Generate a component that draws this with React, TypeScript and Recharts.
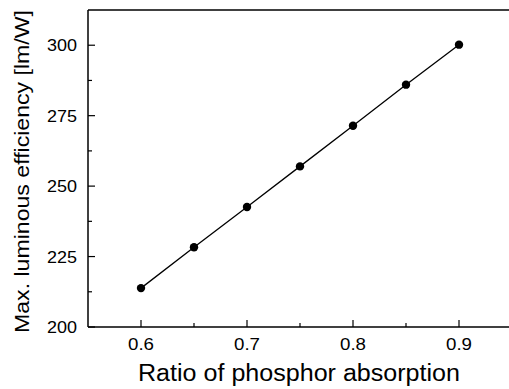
import React from "react"
import { LineChart, Line, XAxis, YAxis, Label } from "recharts"

const ratio = [0.6, 0.65, 0.7, 0.75, 0.8, 0.85, 0.9]
const efficiency = [213.8, 228.3, 242.6, 257.0, 271.4, 286.0, 300.2]

const xMajor = [0.6, 0.7, 0.8, 0.9]
const xTicks = [0.6, 0.65, 0.7, 0.75, 0.8, 0.85, 0.9]
const yMajor = [200, 225, 250, 275, 300]
const yTicks = [200, 212.5, 225, 237.5, 250, 262.5, 275, 287.5, 300]

const data = ratio.map((r, i) => ({ x: r, y: efficiency[i] }))

const FONT = "'Liberation Sans', Arial, sans-serif"
const AXIS = { stroke: "#000", strokeWidth: 1.5 }

const isMajor = (list: number[], v: number) => list.some((m) => Math.abs(m - v) < 1e-6)

const BottomTick = ({ x, y, payload }: any) => {
  const major = isMajor(xMajor, payload.value)
  return (
    <g>
      <line x1={x} x2={x} y1={y} y2={y - (major ? 7 : 4)} stroke="#000" strokeWidth={1.2} />
      {major && (
        <text
          x={x}
          y={y + 22.5}
          textAnchor="middle"
          fontSize={17}
          fontFamily={FONT}
          fill="#000"
          textLength={26}
          lengthAdjust="spacingAndGlyphs"
        >
          {payload.value.toFixed(1)}
        </text>
      )}
    </g>
  )
}

const LeftTick = ({ x, y, payload }: any) => {
  const major = isMajor(yMajor, payload.value)
  return (
    <g>
      <line x1={x} x2={x + (major ? 7 : 4)} y1={y} y2={y} stroke="#000" strokeWidth={1.2} />
      {major && (
        <text
          x={x - 11}
          y={y + 6}
          textAnchor="end"
          fontSize={17}
          fontFamily={FONT}
          fill="#000"
          textLength={30}
          lengthAdjust="spacingAndGlyphs"
        >
          {payload.value}
        </text>
      )}
    </g>
  )
}

const RightTick = ({ x, y, payload }: any) => {
  const major = isMajor(yMajor, payload.value)
  return <line x1={x} x2={x - (major ? 7 : 4)} y1={y} y2={y} stroke="#000" strokeWidth={1.2} />
}

export default function App() {
  return (
    <div style={{ position: "absolute", left: 0, top: 0, width: 509, height: 389, overflow: "hidden", background: "#fff" }}>
      <LineChart width={513} height={389} data={data} margin={{ top: 0, right: 0, bottom: 0, left: 0 }}>
        <XAxis
          dataKey="x"
          type="number"
          domain={[0.55, 0.95]}
          ticks={xTicks}
          interval={0}
          height={62}
          tickSize={0}
          tickMargin={0}
          axisLine={AXIS}
          tickLine={false}
          tick={<BottomTick />}
        >
          <Label
            content={({ viewBox }: any) => (
              <text
                x={viewBox.x + viewBox.width / 2 - 1}
                y={381}
                textAnchor="middle"
                fontSize={23}
                fontFamily={FONT}
                fill="#000"
                textLength={322}
                lengthAdjust="spacingAndGlyphs"
              >
                Ratio of phosphor absorption
              </text>
            )}
          />
        </XAxis>
        <XAxis xAxisId="top" dataKey="x" type="number" domain={[0.55, 0.95]} orientation="top" height={10} tick={false} tickLine={false} axisLine={AXIS} />
        <YAxis
          type="number"
          domain={[200, 312.5]}
          ticks={yTicks}
          interval={0}
          width={88}
          tickSize={0}
          tickMargin={0}
          axisLine={AXIS}
          tickLine={false}
          tick={<LeftTick />}
        >
          <Label
            content={({ viewBox }: any) => {
              const cy = viewBox.y + viewBox.height / 2 + 3
              return (
                <text
                  x={28.5}
                  y={cy}
                  transform={`rotate(-90, 28.5, ${cy})`}
                  textAnchor="middle"
                  fontSize={20}
                  fontFamily={FONT}
                  fill="#000"
                  textLength={323}
                  lengthAdjust="spacingAndGlyphs"
                >
                  Max. luminous efficiency [lm/W]
                </text>
              )
            }}
          />
        </YAxis>
        <YAxis
          yAxisId="right"
          orientation="right"
          type="number"
          domain={[200, 312.5]}
          ticks={yTicks}
          interval={0}
          width={1}
          tickSize={0}
          tickMargin={0}
          axisLine={AXIS}
          tickLine={false}
          tick={<RightTick />}
        />
        <Line
          dataKey="y"
          type="linear"
          stroke="#000"
          strokeWidth={1.3}
          dot={{ r: 4.2, fill: "#000", stroke: "none" }}
          activeDot={false}
          isAnimationActive={false}
        />
      </LineChart>
    </div>
  )
}
